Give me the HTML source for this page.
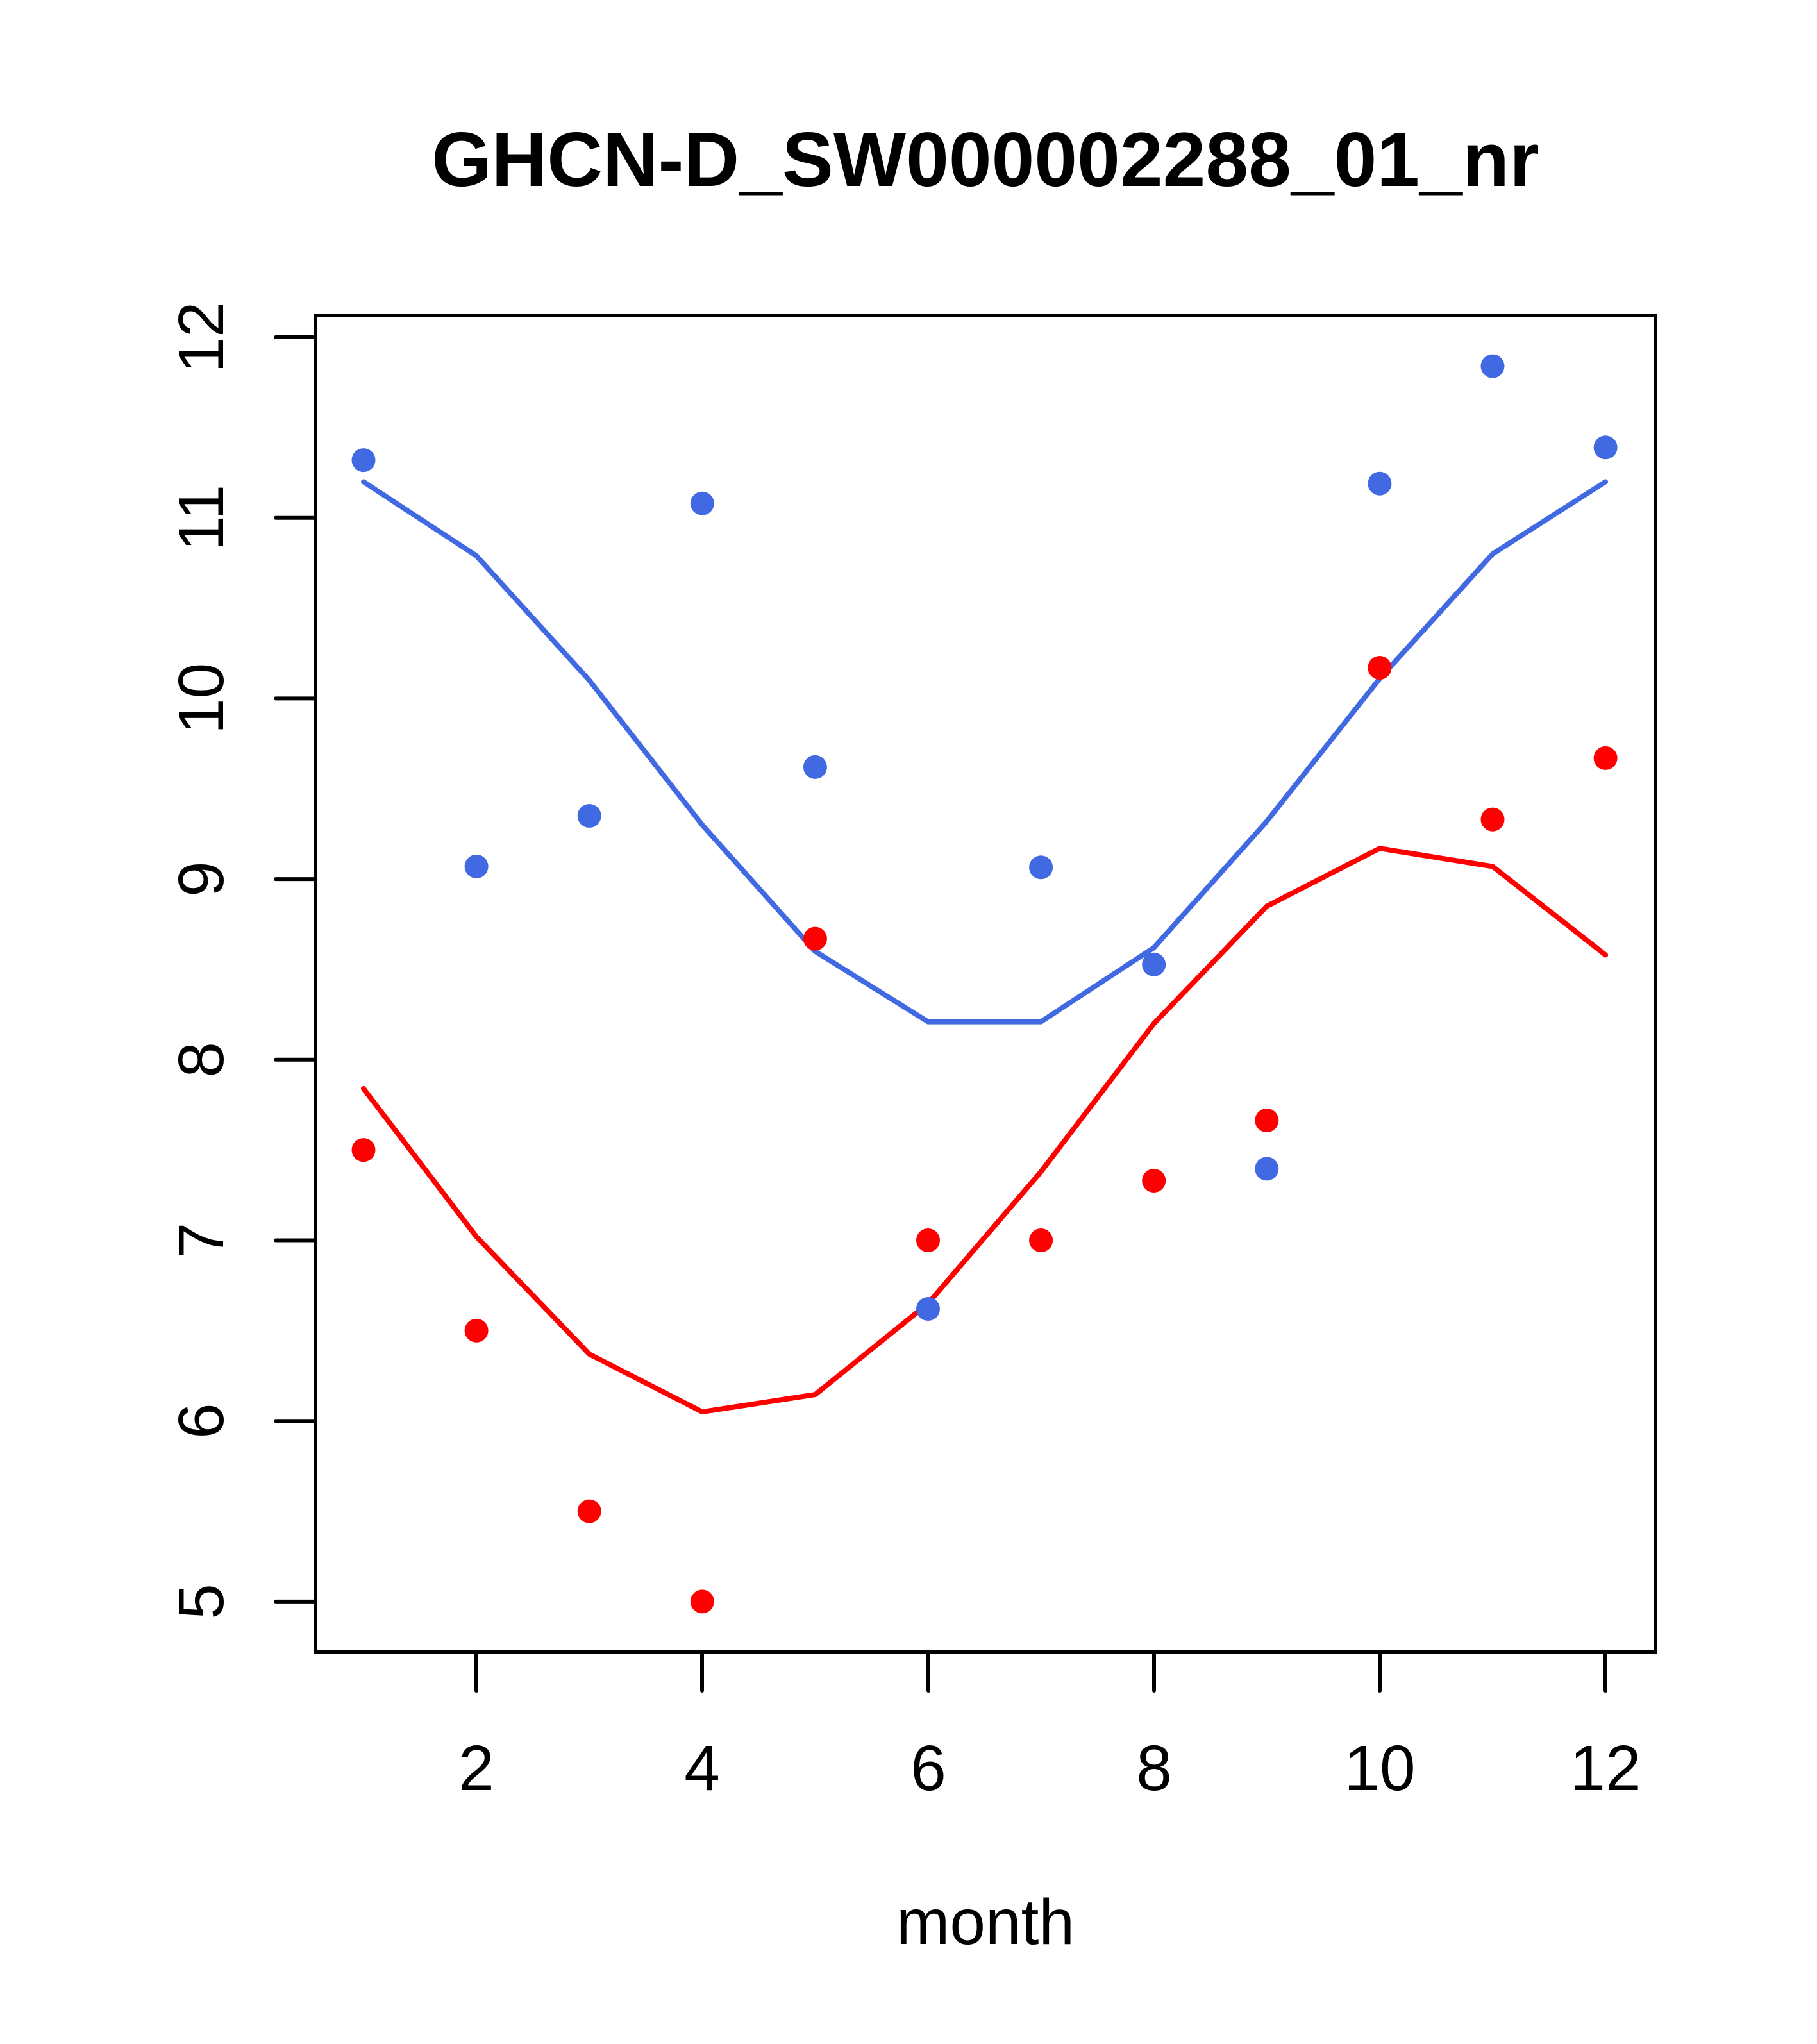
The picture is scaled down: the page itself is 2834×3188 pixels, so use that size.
<!DOCTYPE html>
<html><head><meta charset="utf-8"><style>html,body{margin:0;padding:0;background:#fff}svg{display:block}</style></head>
<body>
<svg id="s" xmlns="http://www.w3.org/2000/svg" width="2834" height="3188" viewBox="0 0 2834 3188" font-family="'Liberation Sans', Arial, sans-serif">
<rect width="2834" height="3188" fill="#fff"/>
<text x="1537" y="290" font-size="120" font-weight="bold" text-anchor="middle">GHCN-D_SW000002288_01_nr</text>
<rect x="492" y="492" width="2090" height="2084" fill="none" stroke="#000" stroke-width="6"/>
<g stroke="#000" stroke-width="6" stroke-linecap="round">
<line x1="430" y1="526" x2="492" y2="526"/><line x1="430" y1="807.7" x2="492" y2="807.7"/>
<line x1="430" y1="1089.4" x2="492" y2="1089.4"/><line x1="430" y1="1371.1" x2="492" y2="1371.1"/>
<line x1="430" y1="1652.8" x2="492" y2="1652.8"/><line x1="430" y1="1934.5" x2="492" y2="1934.5"/>
<line x1="430" y1="2216.2" x2="492" y2="2216.2"/><line x1="430" y1="2497.9" x2="492" y2="2497.9"/>
<line x1="743" y1="2576" x2="743" y2="2637"/><line x1="1095" y1="2576" x2="1095" y2="2637"/>
<line x1="1448" y1="2576" x2="1448" y2="2637"/><line x1="1800" y1="2576" x2="1800" y2="2637"/>
<line x1="2152" y1="2576" x2="2152" y2="2637"/><line x1="2504" y1="2576" x2="2504" y2="2637"/>
</g>
<g font-size="100" text-anchor="middle">
<text transform="translate(348,526) rotate(-90)">12</text>
<text transform="translate(348,807.7) rotate(-90)">11</text>
<text transform="translate(348,1089.4) rotate(-90)">10</text>
<text transform="translate(348,1371.1) rotate(-90)">9</text>
<text transform="translate(348,1652.8) rotate(-90)">8</text>
<text transform="translate(348,1934.5) rotate(-90)">7</text>
<text transform="translate(348,2216.2) rotate(-90)">6</text>
<text transform="translate(348,2497.9) rotate(-90)">5</text>
<text x="743" y="2792">2</text><text x="1095" y="2792">4</text><text x="1448" y="2792">6</text>
<text x="1800" y="2792">8</text><text x="2152" y="2792">10</text><text x="2504" y="2792">12</text>
<text x="1537" y="3032">month</text>
</g>
<g id="data"></g>
</svg>
<script>
var X=function(m){return 567+(m-1)*176.1;},Y=function(v){return 526+(12-v)*281.7;};
var bp=[11.32,9.07,9.35,11.08,9.62,6.62,9.065,8.527,7.396,11.19,11.84,11.39];
var rp=[7.5,6.5,5.5,5,8.67,7,7,7.33,7.664,10.17,9.33,9.67];
var bl=[11.2,10.79,10.1,9.3,8.6,8.21,8.21,8.62,9.32,10.11,10.8,11.2];
var rl=[7.84,7.02,6.37,6.05,6.146,6.65,7.38,8.2,8.85,9.17,9.07,8.58];
var g=document.getElementById('data'),h='';
function pl(a,c){var p=a.map(function(v,i){return X(i+1).toFixed(1)+','+Y(v).toFixed(1)}).join(' ');
h+='<polyline points="'+p+'" fill="none" stroke="'+c+'" stroke-width="8" stroke-linejoin="round" stroke-linecap="round"/>';}
pl(bl,'#4169E1');pl(rl,'#FF0000');
function pts(a,c){a.forEach(function(v,i){h+='<circle cx="'+X(i+1).toFixed(1)+'" cy="'+Y(v).toFixed(1)+'" r="18.5" fill="'+c+'"/>';});}
pts(rp,'#FF0000');pts(bp,'#4169E1');
g.innerHTML=h;
</script>
</body></html>
